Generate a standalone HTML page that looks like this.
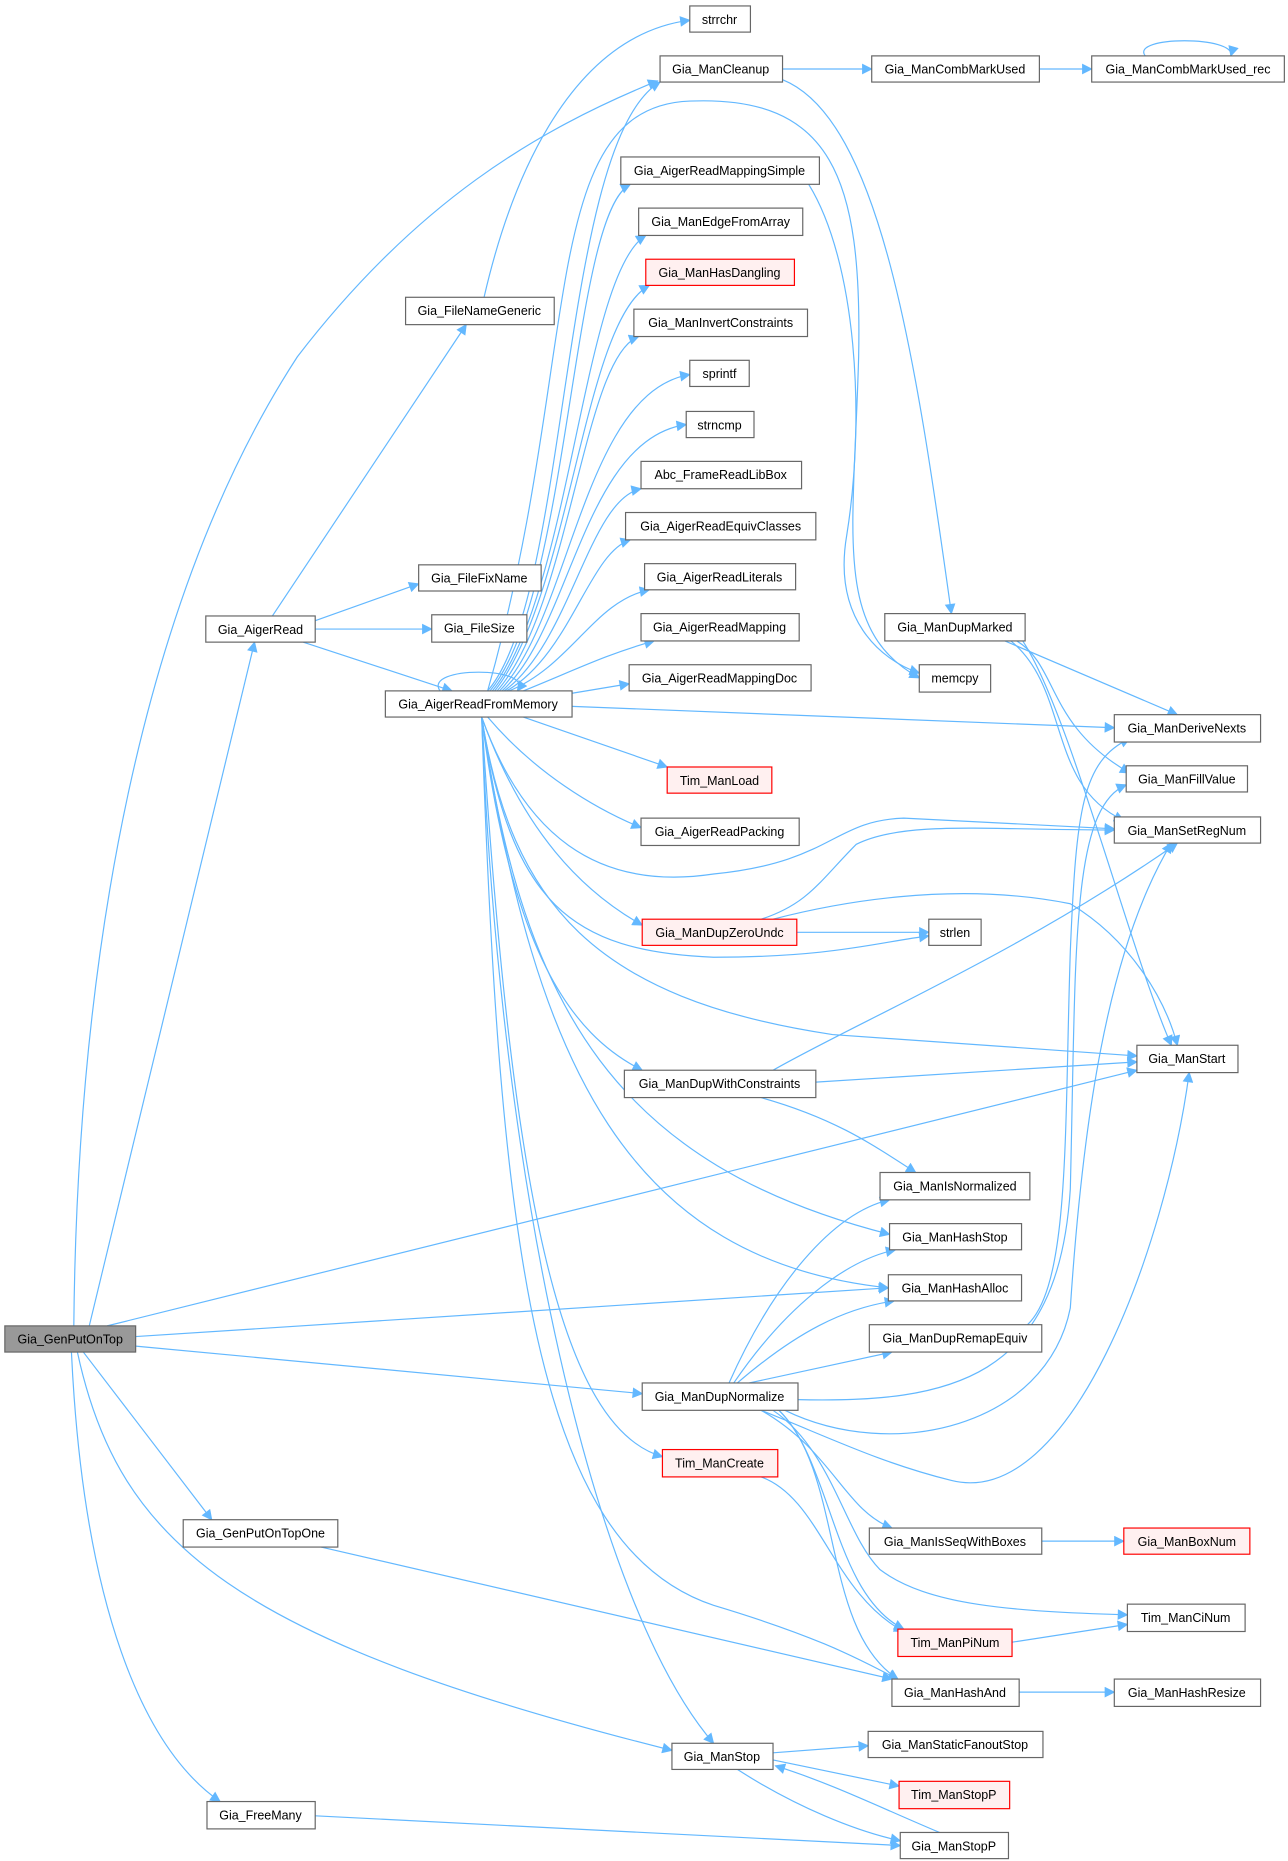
<!DOCTYPE html>
<html><head><meta charset="utf-8"><style>html,body{margin:0;padding:0;background:#fff}svg{display:block}</style></head><body>
<svg width="1288" height="1861" viewBox="0 0 1083 1565" xmlns="http://www.w3.org/2000/svg">
<defs><marker id="a" viewBox="0 0 10 10" refX="9" refY="5" markerWidth="10" markerHeight="9" orient="auto-start-reverse" markerUnits="userSpaceOnUse"><path d="M0,0 L10,5 L0,10 z" fill="#63b8ff"/></marker></defs>
<g fill="none" stroke="#63b8ff" stroke-width="1" marker-end="url(#a)">
<path d="M62,1115 C65,800 120,500 250,300 C350,170 450,110 553,68"/>
<path d="M75,1115 L214,540"/>
<path d="M90,1115 L956,900"/>
<path d="M114,1124 L747,1083"/>
<path d="M114,1132 L540,1172"/>
<path d="M70,1137 L178,1278"/>
<path d="M65,1137 C100,1300 200,1380 565,1472"/>
<path d="M60,1137 C70,1350 120,1470 185,1515"/>
<path d="M229,518 L392,273"/>
<path d="M265,522 L352,491"/>
<path d="M265,529 L363,529"/>
<path d="M255,540 L380,581"/>
<path d="M407,250 C430,150 480,30 580,17"/>
<path d="M370,581 C355,560 450,560 435,581"/>
<path d="M410,581 C480,500 470,120 555,69"/>
<path d="M410,581 C490,300 450,90 580,85 C700,80 725,150 722,300 C718,450 700,530 773,570"/>
<path d="M680,155 C720,220 728,350 712,450 C700,520 740,555 773,566"/>
<path d="M412,581 C480,500 480,180 530,155"/>
<path d="M414,581 C480,500 490,230 543,198"/>
<path d="M416,581 C480,500 490,270 546,240"/>
<path d="M418,581 C480,510 490,300 537,283"/>
<path d="M420,581 C480,520 490,330 580,315"/>
<path d="M422,581 C480,530 490,370 577,357"/>
<path d="M424,581 C480,540 495,420 539,411"/>
<path d="M426,581 C480,550 495,465 530,454"/>
<path d="M428,581 C480,560 500,505 546,496"/>
<path d="M440,581 C480,565 510,550 550,539"/>
<path d="M481,583 L529,575"/>
<path d="M481,594 L937,612"/>
<path d="M440,603 L561,645"/>
<path d="M410,603 C450,650 500,680 539,696"/>
<path d="M405,603 C440,700 500,750 600,735 C700,725 700,690 760,688 L937,697"/>
<path d="M405,603 C440,700 490,750 540,778"/>
<path d="M405,603 C430,760 480,800 600,805 C700,805 740,792 781,787"/>
<path d="M405,603 C430,760 500,840 700,870 L956,888"/>
<path d="M405,603 C430,800 480,870 540,900"/>
<path d="M405,603 C440,850 520,980 748,1038"/>
<path d="M405,603 C450,900 530,1060 747,1083"/>
<path d="M405,603 C430,1000 470,1200 557,1225"/>
<path d="M405,603 C420,1050 450,1300 600,1350 C700,1380 730,1400 755,1412"/>
<path d="M405,603 C420,1000 500,1350 600,1466"/>
<path d="M658,58 L733,58"/>
<path d="M658,67 C740,100 770,300 800,516"/>
<path d="M874,58 L918,58"/>
<path d="M963,47 C950,30 1040,30 1035,47"/>
<path d="M845,539 L990,601"/>
<path d="M855,539 C890,560 880,610 950,650"/>
<path d="M850,539 C900,580 880,660 945,690"/>
<path d="M860,539 C900,600 950,800 985,879"/>
<path d="M670,784 L781,784"/>
<path d="M640,773 C680,760 690,740 720,710 C760,690 830,698 937,698"/>
<path d="M650,773 C700,760 800,740 900,760 C950,790 980,840 990,879"/>
<path d="M650,900 C720,860 860,800 990,709"/>
<path d="M686,910 L956,893"/>
<path d="M640,923 C700,940 730,960 770,986"/>
<path d="M864,1114 C900,1080 895,950 900,800 C905,680 910,640 950,621"/>
<path d="M613,1163 C650,1080 700,1020 748,1009"/>
<path d="M617,1163 C660,1100 710,1060 753,1051"/>
<path d="M620,1163 C670,1120 710,1100 752,1094"/>
<path d="M630,1163 L750,1137"/>
<path d="M671,1177 C800,1180 890,1160 900,1000 C905,800 900,680 947,660"/>
<path d="M660,1186 C750,1230 880,1200 900,1100 C910,950 930,800 985,709"/>
<path d="M640,1186 C700,1210 740,1230 800,1245 C900,1270 980,1050 1000,902"/>
<path d="M640,1186 C700,1220 710,1270 750,1285"/>
<path d="M650,1186 C700,1220 710,1290 740,1320 C780,1350 850,1355 948,1358"/>
<path d="M655,1186 C700,1230 700,1340 760,1370"/>
<path d="M655,1186 C710,1240 690,1370 755,1412"/>
<path d="M640,1242 C690,1260 700,1340 760,1372"/>
<path d="M876,1296 L945,1296"/>
<path d="M851,1381 L948,1366"/>
<path d="M270,1301 L750,1412"/>
<path d="M857,1423 L937,1423"/>
<path d="M650,1474 L730,1468"/>
<path d="M650,1480 L756,1502"/>
<path d="M620,1488 C670,1520 720,1540 757,1548"/>
<path d="M790,1541 C740,1520 700,1500 652,1485"/>
<path d="M265,1527 L757,1552"/>
</g>
<g font-family="Liberation Sans, sans-serif" font-size="10.5" text-anchor="middle" stroke-width="1">
<g fill="#fff" stroke="#666">
<rect x="580" y="5" width="51" height="22"/><rect x="555" y="47" width="103" height="22"/><rect x="733" y="47" width="141" height="22"/><rect x="918" y="47" width="162" height="22"/>
<rect x="522" y="132" width="167" height="23"/><rect x="537" y="175" width="138" height="23"/><rect x="533" y="260" width="146" height="23"/>
<rect x="580" y="303" width="50" height="22"/><rect x="577" y="346" width="57" height="22"/><rect x="539" y="388" width="135" height="23"/><rect x="526" y="431" width="160" height="23"/>
<rect x="542" y="474" width="127" height="22"/><rect x="539" y="516" width="133" height="23"/><rect x="529" y="559" width="153" height="22"/>
<rect x="341" y="250" width="125" height="23"/><rect x="352" y="475" width="103" height="22"/><rect x="363" y="517" width="80" height="23"/><rect x="173" y="518" width="92" height="22"/>
<rect x="324" y="581" width="157" height="22"/><rect x="539" y="688" width="133" height="23"/><rect x="781" y="773" width="44" height="22"/>
<rect x="744" y="516" width="118" height="23"/><rect x="773" y="559" width="60" height="23"/><rect x="937" y="601" width="123" height="23"/><rect x="947" y="644" width="102" height="22"/>
<rect x="937" y="687" width="123" height="22"/><rect x="956" y="879" width="85" height="23"/><rect x="525" y="900" width="161" height="23"/><rect x="740" y="986" width="126" height="23"/>
<rect x="748" y="1029" width="111" height="22"/><rect x="747" y="1072" width="112" height="22"/><rect x="731" y="1114" width="145" height="23"/><rect x="540" y="1163" width="131" height="23"/>
<rect x="154" y="1278" width="130" height="23"/><rect x="731" y="1285" width="145" height="22"/><rect x="948" y="1349" width="99" height="23"/><rect x="750" y="1412" width="107" height="23"/>
<rect x="937" y="1412" width="123" height="23"/><rect x="565" y="1466" width="85" height="22"/><rect x="730" y="1456" width="147" height="22"/><rect x="174" y="1515" width="91" height="23"/><rect x="757" y="1541" width="91" height="22"/>
</g>
<g fill="#fff0f0" stroke="#ff0000">
<rect x="543" y="218" width="125" height="22"/><rect x="561" y="645" width="88" height="22"/><rect x="540" y="773" width="130" height="22"/>
<rect x="557" y="1219" width="97" height="23"/><rect x="945" y="1285" width="106" height="22"/><rect x="755" y="1370" width="96" height="23"/><rect x="756" y="1498" width="93" height="23"/>
</g>
<rect x="4" y="1115" width="110" height="22" fill="#999" stroke="#666"/>
<g fill="#000">
<text x="605" y="20">strrchr</text><text x="606" y="62">Gia_ManCleanup</text><text x="803" y="62">Gia_ManCombMarkUsed</text><text x="999" y="62">Gia_ManCombMarkUsed_rec</text>
<text x="605" y="147">Gia_AigerReadMappingSimple</text><text x="606" y="190">Gia_ManEdgeFromArray</text><text x="605" y="233">Gia_ManHasDangling</text><text x="606" y="275">Gia_ManInvertConstraints</text>
<text x="605" y="318">sprintf</text><text x="605" y="361">strncmp</text><text x="606" y="403">Abc_FrameReadLibBox</text><text x="606" y="446">Gia_AigerReadEquivClasses</text>
<text x="605" y="489">Gia_AigerReadLiterals</text><text x="605" y="531">Gia_AigerReadMapping</text><text x="605" y="574">Gia_AigerReadMappingDoc</text>
<text x="403" y="265">Gia_FileNameGeneric</text><text x="403" y="490">Gia_FileFixName</text><text x="403" y="532">Gia_FileSize</text><text x="219" y="533">Gia_AigerRead</text>
<text x="402" y="596">Gia_AigerReadFromMemory</text><text x="605" y="660">Tim_ManLoad</text><text x="605" y="703">Gia_AigerReadPacking</text><text x="605" y="788">Gia_ManDupZeroUndc</text><text x="803" y="788">strlen</text>
<text x="803" y="531">Gia_ManDupMarked</text><text x="803" y="574">memcpy</text><text x="998" y="616">Gia_ManDeriveNexts</text><text x="998" y="659">Gia_ManFillValue</text>
<text x="998" y="702">Gia_ManSetRegNum</text><text x="998" y="894">Gia_ManStart</text><text x="605" y="915">Gia_ManDupWithConstraints</text><text x="803" y="1001">Gia_ManIsNormalized</text>
<text x="803" y="1044">Gia_ManHashStop</text><text x="803" y="1087">Gia_ManHashAlloc</text><text x="803" y="1129">Gia_ManDupRemapEquiv</text><text x="605" y="1178">Gia_ManDupNormalize</text>
<text x="59" y="1130">Gia_GenPutOnTop</text><text x="605" y="1234">Tim_ManCreate</text><text x="219" y="1293">Gia_GenPutOnTopOne</text><text x="803" y="1300">Gia_ManIsSeqWithBoxes</text>
<text x="998" y="1300">Gia_ManBoxNum</text><text x="997" y="1364">Tim_ManCiNum</text><text x="803" y="1385">Tim_ManPiNum</text><text x="803" y="1427">Gia_ManHashAnd</text>
<text x="998" y="1427">Gia_ManHashResize</text><text x="607" y="1481">Gia_ManStop</text><text x="803" y="1471">Gia_ManStaticFanoutStop</text><text x="802" y="1513">Tim_ManStopP</text>
<text x="219" y="1530">Gia_FreeMany</text><text x="802" y="1556">Gia_ManStopP</text>
</g>
</g>
</svg>
</body></html>
